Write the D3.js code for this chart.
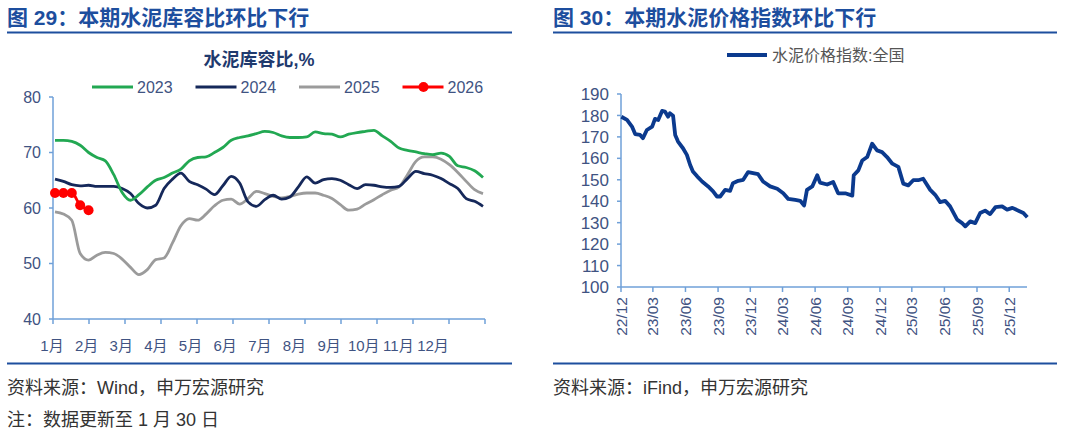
<!DOCTYPE html>
<html><head><meta charset="utf-8">
<script src="https://cdn.jsdelivr.net/npm/d3@7/dist/d3.min.js"></script>
<style>
html,body{margin:0;padding:0;background:#fff;}
svg{display:block;font-family:Arial,"Liberation Sans","Noto Sans CJK SC",sans-serif;}
</style></head>
<body>
<svg id="c" width="1080" height="432"></svg>
<script>
// ---------- Left chart data (weekly, %) ----------
const months = ["1月","2月","3月","4月","5月","6月","7月","8月","9月","10月","11月","12月"];
const yTicksLeft = [40,50,60,70,80];
const years = ["2023","2024","2025","2026"];
const s2023 = [72.2,72.2,72.0,71.3,70.0,69.1,68.5,66.0,62.8,61.4,62.4,63.8,65.0,65.5,66.3,67.0,68.5,69.1,69.2,70.0,70.9,72.2,72.7,73.0,73.4,73.8,73.6,73.0,72.7,72.7,72.8,73.7,73.4,73.3,72.8,73.3,73.6,73.8,74.0,73.0,72.0,70.8,70.4,70.1,69.8,69.6,69.9,69.3,67.6,67.3,66.7,65.5];
const s2024 = [65.2,64.8,64.2,64.0,64.1,63.9,63.9,63.9,63.5,62.6,60.8,60.0,60.5,63.5,65.2,66.3,64.8,64.2,63.4,62.4,64.0,65.7,64.5,61.1,60.3,61.5,62.3,61.6,62.0,63.8,65.6,64.5,65.1,65.3,65.0,64.2,63.5,64.2,64.1,63.8,63.7,63.9,65.3,66.6,66.2,65.9,65.3,64.4,63.5,61.7,61.2,60.3];
const s2025 = [59.3,58.9,57.8,51.8,50.6,51.5,52.0,51.8,50.8,49.3,48.0,48.9,50.7,51.0,53.7,56.8,58.1,57.8,58.9,60.4,61.4,61.6,60.7,61.7,63.0,62.6,62.1,61.8,62.1,62.5,62.7,62.7,62.3,61.7,60.6,59.6,59.8,60.7,61.5,62.4,63.2,63.8,66.0,68.4,69.2,69.2,68.8,67.8,66.4,64.8,63.3,62.6];
const s2026 = [62.7,62.7,62.7,60.5,59.6];

// ---------- Right chart data (cement price index, national) ----------
const priceDates = ["2022-12-02","2022-12-18","2023-01-01","2023-01-10","2023-01-24","2023-02-01","2023-02-12","2023-02-27","2023-03-07","2023-03-16","2023-03-27","2023-04-04","2023-04-13","2023-04-18","2023-04-27","2023-05-03","2023-05-11","2023-05-25","2023-06-05","2023-06-14","2023-06-22","2023-07-04","2023-07-18","2023-08-04","2023-08-18","2023-08-29","2023-09-07","2023-09-21","2023-10-05","2023-10-13","2023-10-28","2023-11-11","2023-11-25","2023-12-09","2023-12-23","2024-01-06","2024-01-26","2024-02-15","2024-03-03","2024-03-17","2024-04-06","2024-04-20","2024-05-01","2024-05-09","2024-05-24","2024-06-07","2024-06-15","2024-07-05","2024-07-22","2024-08-05","2024-08-25","2024-09-14","2024-09-18","2024-10-01","2024-10-12","2024-10-26","2024-11-09","2024-11-23","2024-12-07","2024-12-21","2025-01-05","2025-01-22","2025-02-05","2025-02-19","2025-03-05","2025-03-19","2025-04-02","2025-04-22","2025-05-06","2025-05-20","2025-06-03","2025-06-17","2025-07-07","2025-07-21","2025-07-30","2025-08-13","2025-08-27","2025-09-10","2025-09-24","2025-10-08","2025-10-23","2025-11-11","2025-11-25","2025-12-10","2025-12-27","2026-01-10","2026-01-21"];
const priceVals = [179.4,177.9,174.8,171.3,170.9,169.4,173.2,174.8,178.4,177.9,182.1,181.8,179.4,181.0,179.9,170.9,167.8,164.7,161.6,157.0,153.9,151.6,149.2,146.9,144.6,142.2,142.2,145.3,144.8,148.4,149.5,150.0,153.6,153.1,152.6,149.2,146.9,145.8,143.7,141.1,140.6,140.2,138.0,145.3,146.9,152.1,148.7,147.8,149.0,143.7,143.7,142.6,152.1,154.4,159.0,160.6,166.8,163.7,162.9,160.6,157.5,156.0,148.2,147.4,149.8,149.8,150.5,145.3,143.0,139.6,140.2,137.6,131.4,129.8,128.3,130.6,129.8,134.5,135.6,134.0,137.2,137.6,136.1,136.9,135.6,134.5,132.5];
const yTicksRight = [100,110,120,130,140,150,160,170,180,190];
const xTickLabelsRight = ["22/12","23/03","23/06","23/09","23/12","24/03","24/06","24/09","24/12","25/03","25/06","25/09","25/12"];

// ---------- styles ----------
const HEAD = "#1d4e9e", AXIS = "#6fa0d8", TXT = "#3f5382";
const colors = {"2023":"#22a852","2024":"#15285a","2025":"#9b9b9b","2026":"#ff0000"};

const svg = d3.select("#c");

// headers and rules
function header(x, x2, text){
  svg.append("text").attr("x",x).attr("y",25).attr("font-size",21).attr("font-weight","bold")
    .attr("fill",HEAD).text(text);
  svg.append("line").attr("x1",x).attr("x2",x2).attr("y1",32.5).attr("y2",32.5)
    .attr("stroke",HEAD).attr("stroke-width",2);
  svg.append("line").attr("x1",x).attr("x2",x2).attr("y1",363.5).attr("y2",363.5)
    .attr("stroke",HEAD).attr("stroke-width",2);
}
header(7,512,"图 29：本期水泥库容比环比下行");
header(553,1057,"图 30：本期水泥价格指数环比下行");
svg.append("text").attr("x",7).attr("y",394).attr("font-size",18).attr("fill","#333").text("资料来源：Wind，申万宏源研究");
svg.append("text").attr("x",7).attr("y",426).attr("font-size",18).attr("fill","#333").text("注：数据更新至 1 月 30 日");
svg.append("text").attr("x",553).attr("y",394).attr("font-size",18).attr("fill","#333").text("资料来源：iFind，申万宏源研究");

// ---------- Left chart ----------
const L = svg.append("g");
L.append("text").attr("x",259).attr("y",66).attr("text-anchor","middle").attr("font-size",18)
  .attr("font-weight","bold").attr("fill","#1f3a6e").text("水泥库容比,%");

const yL = d3.scaleLinear().domain([40,80]).range([319,97]);
const xL = d3.scalePoint().domain(d3.range(52)).range([55,483]);
const xMonthTick = d3.scaleLinear().domain([0,12]).range([53,485]);
const xMonthLab = d3.scalePoint().domain(months).range([52,433]);

// axes
L.append("line").attr("x1",53).attr("x2",53).attr("y1",97).attr("y2",319).attr("stroke",AXIS).attr("stroke-width",1.5);
L.append("line").attr("x1",53).attr("x2",485).attr("y1",319).attr("y2",319).attr("stroke",AXIS).attr("stroke-width",1.5);
L.selectAll(".yt").data(yTicksLeft).join("line").attr("x1",49).attr("x2",53)
  .attr("y1",d=>yL(d)).attr("y2",d=>yL(d)).attr("stroke",AXIS).attr("stroke-width",1.5);
L.selectAll(".yl").data(yTicksLeft).join("text").attr("x",41).attr("y",d=>yL(d)).attr("dy","0.36em")
  .attr("text-anchor","end").attr("font-size",16).attr("fill",TXT).text(d=>d);
L.selectAll(".xt").data(d3.range(13)).join("line").attr("x1",d=>xMonthTick(d)).attr("x2",d=>xMonthTick(d))
  .attr("y1",319).attr("y2",324).attr("stroke",AXIS).attr("stroke-width",1.5);
L.selectAll(".xl").data(months).join("text").attr("x",d=>xMonthLab(d)).attr("y",351)
  .attr("text-anchor","middle").attr("font-size",15).attr("fill",TXT).text(d=>d);

const lineL = d3.line().x((d,i)=>xL(i)).y(d=>yL(d)).curve(d3.curveMonotoneX);
const seriesL = {"2023":s2023,"2024":s2024,"2025":s2025,"2026":s2026};
["2025","2024","2023"].forEach(k=>{
  L.append("path").attr("d",lineL(seriesL[k])).attr("fill","none").attr("stroke",colors[k]).attr("stroke-width",2.8);
});
L.append("path").attr("d",lineL(s2026)).attr("fill","none").attr("stroke",colors["2026"]).attr("stroke-width",2.8);
L.selectAll(".d26").data(s2026).join("circle").attr("cx",(d,i)=>xL(i)).attr("cy",d=>yL(d)).attr("r",5).attr("fill",colors["2026"]);

// legend
const lg = L.selectAll(".lg").data(years).join("g").attr("transform",(d,i)=>`translate(${92+i*103.5},87)`);
lg.append("line").attr("x1",0).attr("x2",41).attr("y1",0).attr("y2",0).attr("stroke",d=>colors[d]).attr("stroke-width",3);
lg.filter(d=>d==="2026").append("circle").attr("cx",21).attr("cy",0).attr("r",5).attr("fill",colors["2026"]);
lg.append("text").attr("x",45).attr("y",0).attr("dy","0.36em").attr("font-size",16).attr("fill",TXT).text(d=>d);

// ---------- Right chart ----------
const R = svg.append("g");
const parse = d3.timeParse("%Y-%m-%d");
const pts = priceDates.map((d,i)=>({t:parse(d),v:priceVals[i]}));
const xR = d3.scaleTime().domain([parse("2022-12-01"),parse("2026-01-23")]).range([621,1028]);
const yR = d3.scaleLinear().domain([100,190]).range([287,94]);
const tickDates = xTickLabelsRight.map(s=>{const [yy,mm]=s.split("/");return parse(`20${yy}-${mm}-01`);});

R.append("line").attr("x1",621).attr("x2",621).attr("y1",94).attr("y2",287).attr("stroke",AXIS).attr("stroke-width",1.5);
R.append("line").attr("x1",621).attr("x2",1027).attr("y1",287).attr("y2",287).attr("stroke",AXIS).attr("stroke-width",1.5);
R.selectAll(".yt").data(yTicksRight).join("line").attr("x1",617).attr("x2",621)
  .attr("y1",d=>yR(d)).attr("y2",d=>yR(d)).attr("stroke",AXIS).attr("stroke-width",1.5);
R.selectAll(".yl").data(yTicksRight).join("text").attr("x",609).attr("y",d=>yR(d)).attr("dy","0.36em")
  .attr("text-anchor","end").attr("font-size",17).attr("fill",TXT).text(d=>d);
R.selectAll(".xt").data(tickDates).join("line").attr("x1",d=>xR(d)).attr("x2",d=>xR(d))
  .attr("y1",287).attr("y2",292).attr("stroke",AXIS).attr("stroke-width",1.5);
R.selectAll(".xl").data(xTickLabelsRight).join("text")
  .attr("transform",(d,i)=>`translate(${xR(tickDates[i])},297) rotate(-90)`)
  .attr("text-anchor","end").attr("dy","0.36em").attr("font-size",15.5).attr("fill",TXT).text(d=>d);

const lineR = d3.line().x(d=>xR(d.t)).y(d=>yR(d.v));
R.append("path").attr("d",lineR(pts)).attr("fill","none").attr("stroke","#0b3a8e").attr("stroke-width",3.8)
  .attr("stroke-linejoin","round");

R.append("line").attr("x1",727).attr("x2",767).attr("y1",55).attr("y2",55).attr("stroke","#0b3a8e").attr("stroke-width",4);
R.append("text").attr("x",772).attr("y",55).attr("dy","0.36em").attr("font-size",16).attr("fill","#555").text("水泥价格指数:全国");
</script>
</body></html>
